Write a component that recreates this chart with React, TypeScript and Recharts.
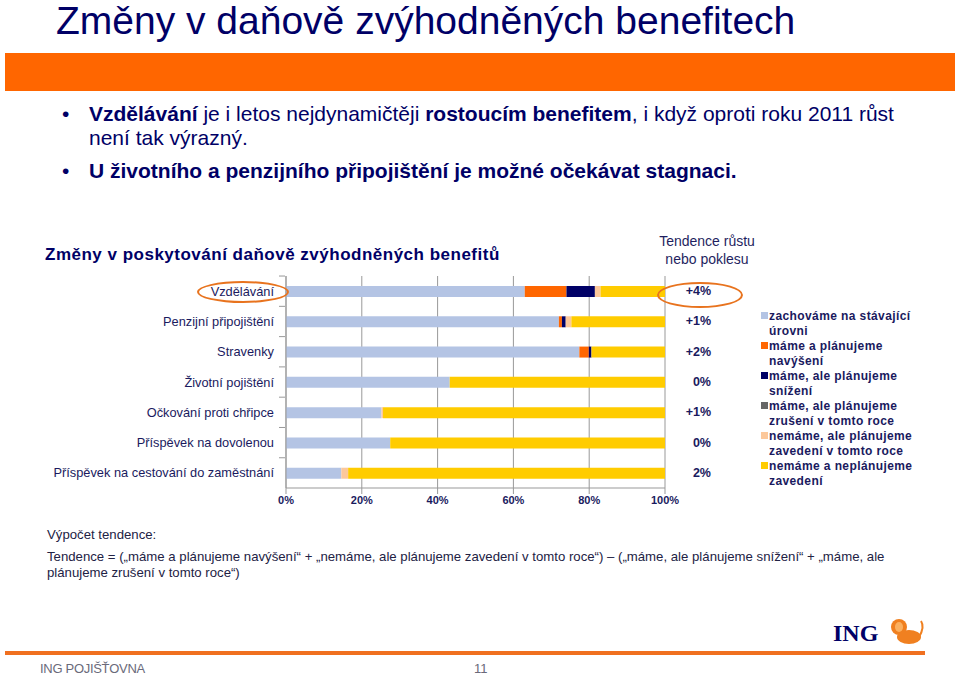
import React from "react";
import { BarChart, Bar, XAxis, YAxis, CartesianGrid } from "recharts";

const categories = [
  "Vzdělávání",
  "Penzijní připojištění",
  "Stravenky",
  "Životní pojištění",
  "Očkování proti chřipce",
  "Příspěvek na dovolenou",
  "Příspěvek na cestování do zaměstnání",
];
const keepLevel = [63, 72, 77.4, 43.2, 25.2, 27.5, 14.6];
const raisePlan = [11, 0.8, 2.5, 0, 0, 0, 0];
const cutPlan = [7.5, 1, 0.7, 0, 0, 0, 0];
const cancelPlan = [0, 0, 0, 0, 0, 0, 0];
const introducePlan = [1.5, 1.5, 0, 0, 0.4, 0, 1.8];
const noPlan = [17, 24.7, 19.4, 56.8, 74.4, 72.5, 83.6];
const tendence = ["+4%", "+1%", "+2%", "0%", "+1%", "0%", "2%"];
const xTicks = [0, 20, 40, 60, 80, 100];

const series = [
  { key: "keep", name: "zachováme na stávající\núrovni", color: "#b4c4e4", values: keepLevel },
  { key: "raise", name: "máme a plánujeme\nnavýšení", color: "#ff6600", values: raisePlan },
  { key: "cut", name: "máme, ale plánujeme\nsnížení", color: "#000066", values: cutPlan },
  { key: "cancel", name: "máme, ale plánujeme\nzrušení v tomto roce", color: "#666666", values: cancelPlan },
  { key: "introduce", name: "nemáme, ale plánujeme\nzavedení v tomto roce", color: "#fcc89b", values: introducePlan },
  { key: "none", name: "nemáme a neplánujeme\nzavedení", color: "#ffcc00", values: noPlan },
];

const data = categories.map((name, i) => {
  const row: Record<string, string | number> = { name, tendence: tendence[i] };
  series.forEach((s) => (row[s.key] = s.values[i]));
  return row;
});

const NAVY = "#000066";
const FONT = '"Liberation Sans", Arial, sans-serif';

const CatTick = (props: any) => {
  const { x, y, payload } = props;
  return (
    <g>
      <text x={x} y={y} textAnchor="end" dominantBaseline="central" fill="#1a1a5e" fontSize={12.8} fontFamily={FONT}>
        {payload.value}
      </text>
      <line x1={x + 5} x2={x + 11} y1={y - 15.1} y2={y - 15.1} stroke="#999" />
    </g>
  );
};

const TrendTick = (props: any) => {
  const { x, y, index } = props;
  return (
    <text x={x + 38} y={y} textAnchor="end" dominantBaseline="central" fill="#1a1a5e" fontSize={12.5} fontWeight="bold" fontFamily={FONT}>
      {tendence[index]}
    </text>
  );
};

const abs = (left: number, top: number, extra: React.CSSProperties = {}): React.CSSProperties => ({
  position: "absolute",
  left,
  top,
  ...extra,
});

export default function App() {
  return (
    <div style={{ position: "absolute", left: 0, top: 0, width: 960, height: 676, background: "#fff", fontFamily: FONT, overflow: "hidden" }}>
      <div style={abs(56, 1, { fontSize: 39, lineHeight: "40px", color: NAVY, whiteSpace: "nowrap" })}>
        Změny v daňově zvýhodněných benefitech
      </div>
      <div style={abs(5, 53, { width: 950, height: 38, background: "#ff6600" })} />

      <div style={abs(62, 102, { fontSize: 21, lineHeight: "24px", color: NAVY, whiteSpace: "nowrap" })}>
        •
      </div>
      <div style={abs(89, 102, { fontSize: 21, lineHeight: "24px", color: NAVY, whiteSpace: "nowrap" })}>
        <b>Vzdělávání</b> je i letos nejdynamičtěji <b>rostoucím benefitem</b>, i když oproti roku 2011 růst
        <br />
        není tak výrazný.
      </div>
      <div style={abs(62, 159, { fontSize: 21, lineHeight: "24px", color: NAVY, whiteSpace: "nowrap" })}>
        •
      </div>
      <div style={abs(89, 159, { fontSize: 21, lineHeight: "24px", color: NAVY, fontWeight: "bold", whiteSpace: "nowrap" })}>
        U životního a penzijního připojištění je možné očekávat stagnaci.
      </div>

      <div style={abs(45, 245, { fontSize: 17, lineHeight: "20px", letterSpacing: 0.5, color: NAVY, fontWeight: "bold", whiteSpace: "nowrap" })}>
        Změny v poskytování daňově zvýhodněných benefitů
      </div>
      <div style={abs(647, 232, { width: 120, textAlign: "center", fontSize: 14, lineHeight: "18px", color: "#1f1f5f" })}>
        Tendence růstu
        <br />
        nebo poklesu
      </div>

      <div style={abs(0, 268)}>
        <BarChart
          width={960}
          height={252}
          data={data}
          layout="vertical"
          margin={{ top: 8, right: 235, bottom: 2, left: 10 }}
          barSize={11}
        >
          <CartesianGrid horizontal={false} stroke="#999" />
          <XAxis
            type="number"
            domain={[0, 100]}
            ticks={xTicks}
            tickFormatter={(v) => `${v}%`}
            height={30}
            stroke="#999"
            tick={{ fill: "#1a1a5e", fontSize: 11, fontWeight: "bold", fontFamily: FONT }}
          />
          <YAxis
            yAxisId="left"
            type="category"
            dataKey="name"
            width={276}
            tickSize={6}
            tickMargin={6}
            tickLine={false}
            stroke="#999"
            tick={<CatTick />}
            interval={0}
          />
          <YAxis
            yAxisId="right"
            orientation="right"
            type="category"
            dataKey="name"
            width={60}
            axisLine={false}
            tickLine={false}
            tick={<TrendTick />}
            interval={0}
          />
          {series.map((s) => (
            <Bar
              key={s.key}
              yAxisId="left"
              dataKey={s.key}
              name={s.name}
              stackId="a"
              fill={s.color}
              isAnimationActive={false}
            />
          ))}
        </BarChart>
      </div>

      <div style={abs(197, 281, { width: 92, height: 22, border: "2.5px solid #e8731e", borderRadius: "50%", boxSizing: "border-box" })} />
      <div style={abs(657, 282, { width: 86, height: 26, border: "2.5px solid #e8731e", borderRadius: "50%", boxSizing: "border-box" })} />

      <div style={abs(759, 309, { width: 195 })}>
        {series.map((s) => (
          <div key={s.key} style={{ position: "relative", height: 30, paddingLeft: 10, fontSize: 12, lineHeight: "15px", letterSpacing: 0.4, fontWeight: "bold", color: "#1a1a5e", whiteSpace: "pre-line" }}>
            <span style={{ position: "absolute", left: 2, top: 3, width: 7, height: 7, background: s.color }} />
            {s.name}
          </div>
        ))}
      </div>

      <div style={abs(47, 527, { fontSize: 13.2, lineHeight: "16px", color: "#222244", whiteSpace: "nowrap" })}>
        Výpočet tendence:
      </div>
      <div style={abs(47, 549, { fontSize: 13.2, lineHeight: "16px", color: "#222244", whiteSpace: "nowrap" })}>
        Tendence = („máme a plánujeme navýšení“ + „nemáme, ale plánujeme zavedení v tomto roce“) – („máme, ale plánujeme snížení“ + „máme, ale
        <br />
        plánujeme zrušení v tomto roce“)
      </div>

      <div style={abs(833, 620, { fontFamily: '"Liberation Serif", "DejaVu Serif", serif', fontWeight: "bold", fontSize: 24, lineHeight: "26px", color: NAVY })}>
        ING
      </div>
      <svg style={abs(889, 617)} width={38} height={30}>
        <ellipse cx={10} cy={10} rx={8} ry={8} fill="#f08020" />
        <ellipse cx={10} cy={10} rx={4} ry={5} fill="#fbb060" />
        <ellipse cx={20} cy={20} rx={12} ry={7} fill="#f08020" />
        <path d="M30 20 Q36 10 32 4" stroke="#f08020" strokeWidth={2} fill="none" />
      </svg>
      <div style={abs(5, 651, { width: 920, height: 4, background: "#f07020" })} />
      <div style={abs(40, 661, { fontSize: 13, lineHeight: "16px", color: "#6a6a7a", letterSpacing: -0.3 })}>
        ING POJIŠŤOVNA
      </div>
      <div style={abs(474, 661, { fontSize: 13, lineHeight: "16px", color: "#6a6a7a" })}>11</div>
    </div>
  );
}
